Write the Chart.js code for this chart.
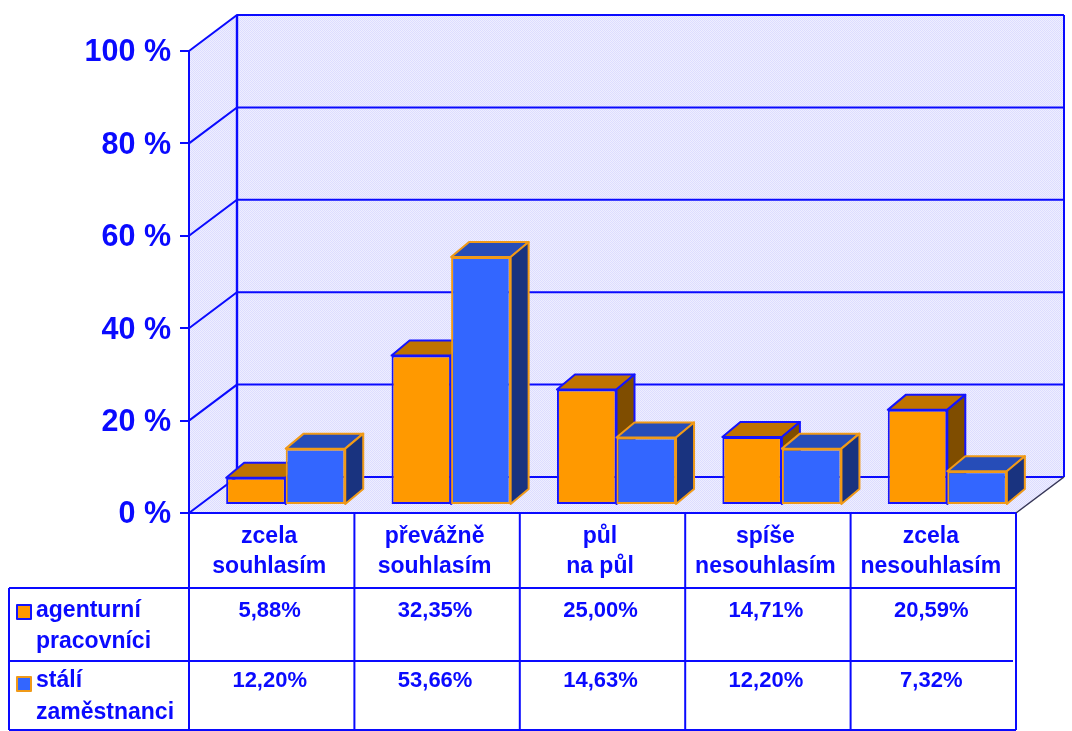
<!DOCTYPE html>
<html>
<head>
<meta charset="utf-8">
<style>html,body{margin:0;padding:0;background:#fff}canvas{display:block}</style>
<script src="https://cdn.jsdelivr.net/npm/chart.js@4"></script>
</head>
<body>
<canvas id="c" width="1072" height="731"></canvas>
<script>
const categories = [["zcela","souhlasím"],["převážně","souhlasím"],["půl","na půl"],["spíše","nesouhlasím"],["zcela","nesouhlasím"]];
const agenturni = [5.88,32.35,25.00,14.71,20.59];
const stali = [12.20,53.66,14.63,12.20,7.32];
const seriesNames = [["agenturní","pracovníci"],["stálí","zaměstnanci"]];
const yTicks = [0,20,40,60,80,100];

const BLUE = '#0a0aff';
const FAMILY = '"Liberation Sans", Arial, sans-serif';
const NAME_FONT = 'bold 23px '+FAMILY;
const VALUE_FONT = 'bold 22px '+FAMILY;
const WALL = {dx:48, dy:-36};      // wall depth
const BAR = {dx:14, dy:-8, ox:18, oy:-15}; // bar placement and depth
const faces = [
  {front:'#ff9900', top:'#bf7300', side:'#7f4d00', edge:'#1414ff'},
  {front:'#3366ff', top:'#264db8', side:'#19337f', edge:'#f09a18'}
];
const rowY = [588,661,730];
const legendRows = [{t1:611,t2:642,sw:605},{t1:681,t2:713,sw:677}];

function line(ctx,pts,color,w){
  ctx.beginPath();pts.forEach((p,i)=>i?ctx.lineTo(p[0],p[1]):ctx.moveTo(p[0],p[1]));
  ctx.strokeStyle=color;ctx.lineWidth=w;ctx.stroke();
}
function poly(ctx,pts,fill,edge,w){
  ctx.beginPath();pts.forEach((p,i)=>i?ctx.lineTo(p[0],p[1]):ctx.moveTo(p[0],p[1]));ctx.closePath();
  ctx.fillStyle=fill;ctx.fill();
  if(edge){ctx.strokeStyle=edge;ctx.lineWidth=w;ctx.lineJoin='round';ctx.stroke();}
}
function dither(ctx){
  const p=document.createElement('canvas');p.width=2;p.height=2;
  const g=p.getContext('2d');g.fillStyle='#eeeeff';g.fillRect(0,0,2,2);
  g.fillStyle='#dcdcff';g.fillRect(0,0,1,1);g.fillRect(1,1,1,1);
  return ctx.createPattern(p,'repeat');
}
function drawFaces(ctx,meta,f){
  meta.data.forEach(el=>{
    const p=el.getProps(['x','y','base','width'],true);
    const l=p.x-p.width/2,r=p.x+p.width/2,t=p.y,b=p.base;
    const ox=BAR.ox,oy=BAR.oy;
    poly(ctx,[[l,t],[l+ox,t+oy],[r+ox,t+oy],[r,t]],f.top,f.edge,2);
    poly(ctx,[[r,t],[r+ox,t+oy],[r+ox,b+oy],[r,b]],f.side,f.edge,2);
  });
}

const walls3d = {
  id:'walls3d',
  beforeDraw(chart){
    const {ctx,chartArea:a,scales:{y}}=chart;
    const L=a.left,R=a.right,T=y.getPixelForValue(100),B=y.getPixelForValue(0);
    const d=WALL;
    const pat=dither(ctx);
    ctx.save();
    poly(ctx,[[L+d.dx,T+d.dy],[R+d.dx,T+d.dy],[R+d.dx,B+d.dy],[L+d.dx,B+d.dy]],pat);
    poly(ctx,[[L,T],[L+d.dx,T+d.dy],[L+d.dx,B+d.dy],[L,B]],pat);
    poly(ctx,[[L,B],[L+d.dx,B+d.dy],[R+d.dx,B+d.dy],[R,B]],pat);
    yTicks.forEach(v=>{
      const p=y.getPixelForValue(v);
      line(ctx,[[L,p],[L+d.dx,p+d.dy],[R+d.dx,p+d.dy]],BLUE,2);
    });
    line(ctx,[[L+d.dx,T+d.dy],[L+d.dx,B+d.dy]],BLUE,2.4);
    line(ctx,[[R+d.dx,T+d.dy],[R+d.dx,B+d.dy]],BLUE,2);
    line(ctx,[[R,B],[R+d.dx,B+d.dy]],'#333355',1.5);
    ctx.restore();
  },
  // Orange is painted first, then blue over it, while the bars keep their left-to-right order.
  beforeDatasetDraw(chart,args){
    if(args.index===0) return false;
    const {ctx}=chart;
    ctx.save();
    ctx.translate(BAR.dx,BAR.dy);
    const orange=chart.getDatasetMeta(0);
    drawFaces(ctx,orange,faces[0]);
    orange.controller.draw();
    drawFaces(ctx,args.meta,faces[1]);
  },
  afterDatasetDraw(chart,args){
    if(args.index===1) chart.ctx.restore();
  },
  afterDraw(chart){
    const {ctx,chartArea:a,scales:{y}}=chart;
    const B=y.getPixelForValue(0);
    const step=(a.right-a.left)/categories.length;
    ctx.save();
    line(ctx,[[a.left-8,B],[a.right,B]],BLUE,2);
    for(let i=0;i<=categories.length;i++){
      const px=a.left+step*i;
      line(ctx,[[px,B],[px,rowY[2]]],BLUE,2);
    }
    line(ctx,[[9,rowY[0]],[a.right,rowY[0]]],BLUE,2);
    line(ctx,[[9,rowY[1]],[a.right-3,rowY[1]]],BLUE,2);
    line(ctx,[[9,rowY[2]],[a.right,rowY[2]]],BLUE,2);
    line(ctx,[[9,rowY[0]],[9,rowY[2]]],BLUE,2);
    ctx.textBaseline='middle';
    [agenturni,stali].forEach((vals,r)=>{
      const g=legendRows[r];
      poly(ctx,[[17,g.sw],[31,g.sw],[31,g.sw+14],[17,g.sw+14]],faces[r].front,faces[r].edge,2);
      ctx.fillStyle=BLUE;ctx.textAlign='left';ctx.font=NAME_FONT;
      ctx.fillText(seriesNames[r][0],36,g.t1);
      ctx.fillText(seriesNames[r][1],36,g.t2);
      ctx.textAlign='center';ctx.font=VALUE_FONT;
      vals.forEach((v,i)=>{
        ctx.fillText(v.toFixed(2).replace('.',',')+'%',a.left+step*(i+.5)-2,g.t1);
      });
    });
    ctx.restore();
  }
};

new Chart(document.getElementById('c'),{
  type:'bar',
  data:{labels:categories,datasets:[
    {label:seriesNames[0].join(' '),data:agenturni,backgroundColor:faces[0].front,borderColor:faces[0].edge,borderWidth:2,borderSkipped:false,clip:false,categoryPercentage:0.72,barPercentage:1},
    {label:seriesNames[1].join(' '),data:stali,backgroundColor:faces[1].front,borderColor:faces[1].edge,borderWidth:2,borderSkipped:false,clip:false,categoryPercentage:0.72,barPercentage:1}
  ]},
  options:{
    responsive:false,animation:false,
    layout:{padding:{top:51,right:56,left:0,bottom:0}},
    plugins:{legend:{display:false},tooltip:{enabled:false}},
    scales:{
      x:{
        afterFit(s){s.height=218;},
        grid:{display:false},border:{display:false},
        ticks:{color:BLUE,autoSkip:false,maxRotation:0,minRotation:0,padding:0,labelOffset:-2.5,
          font:{family:FAMILY,size:23,weight:'bold',lineHeight:1.32}}
      },
      y:{
        min:0,max:100,
        afterFit(s){s.width=189;},
        afterBuildTicks(s){s.ticks=yTicks.map(v=>({value:v}));},
        grid:{drawOnChartArea:false,color:BLUE,lineWidth:2,tickLength:9},
        border:{color:BLUE,width:2},
        ticks:{color:BLUE,padding:9,labelOffset:2,callback:v=>v+' %',
          font:{family:FAMILY,size:30.5,weight:'bold'}}
      }
    }
  },
  plugins:[walls3d]
});
</script>
</body>
</html>
